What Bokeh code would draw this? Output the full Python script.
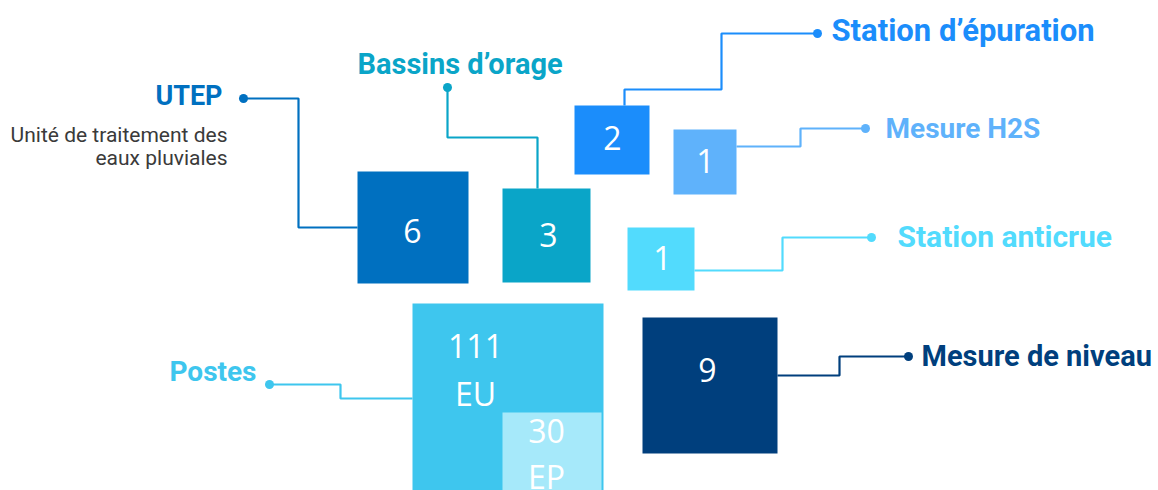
from bokeh.plotting import figure
from bokeh.models import ColumnDataSource, Range1d
from bokeh.core.properties import value
from bokeh.embed import file_html
from bokeh.resources import INLINE

# ---------------- data ----------------
labels = ["UTEP", "Bassins d’orage", "Station d’épuration", "Mesure H2S",
          "Station anticrue", "Mesure de niveau"]
counts = [6, 3, 2, 1, 1, 9]
postes_label = "Postes"
postes_types = ["EU", "EP"]
postes_counts = [111, 30]
utep_subtitle = ["Unité de traitement des", "eaux pluviales"]

# ---------------- layout / style (page pixels) ----------------
colors = ["#0070C0", "#0AA5C8", "#1B8DFB", "#5FB2FB", "#52DBFD", "#003F7D"]
postes_colors = ["#3EC6EE", "#A6E9FA"]
postes_text_color = "#3EC6EE"

# squares: left, top, right, bottom
boxes = [(357, 171, 468, 283), (502, 188, 590, 282), (574, 105, 649, 174),
         (673, 129, 736, 194), (627, 227, 694, 290), (642, 317, 777, 453)]
postes_boxes = [(412, 303, 603, 520), (502, 412, 601, 520)]
# number anchors (center x, center y)
num_pos = [(412, 230), (548, 234), (612, 137), (705, 160), (662, 257), (707, 369)]
postes_num_pos = [(475, 345), (546, 430)]
postes_type_pos = [(475, 393), (546, 476)]
# connector paths
paths = [
    [(243, 98), (298, 98), (298, 227), (357, 227)],
    [(447, 87), (447, 137), (537, 137), (537, 188)],
    [(624, 105), (624, 89), (721, 89), (721, 33), (817, 33)],
    [(736, 146), (800, 146), (800, 128), (865, 128)],
    [(694, 270), (782, 270), (782, 237), (871, 237)],
    [(777, 375), (839, 375), (839, 356), (908, 356)],
]
dots = [(243, 98), (447, 87), (817, 33), (865, 128), (871, 237), (908, 356)]
postes_path = [(269, 384), (340, 384), (340, 398), (412, 398)]
postes_dot = (269, 384)
# label anchors (x, center y, align, size)
label_pos = [(222, 95, "right", "27px"), (357, 63, "left", "29px"),
             (831, 30, "left", "31px"), (885, 128, "left", "28px"),
             (897, 236, "left", "30px"), (921, 355, "left", "29px")]
postes_label_pos = (256, 371, "right", "28px")
subtitle_pos = [(227, 134), (227, 157)]

LABEL_FONT = "Roboto"
NUM_FONT = "Open Sans"

W, H = 1158, 490
p = figure(width=W, height=H, output_backend="svg", toolbar_location=None,
           x_range=Range1d(0, W), y_range=Range1d(H, 0),
           x_axis_type=None, y_axis_type=None, min_border=0,
           background_fill_color="white", border_fill_color="white")
p.grid.visible = False
p.outline_line_color = None

# connectors
p.multi_line(xs=[[q[0] for q in pth] for pth in paths] + [[q[0] for q in postes_path]],
             ys=[[q[1] for q in pth] for pth in paths] + [[q[1] for q in postes_path]],
             line_color=colors + [postes_text_color], line_width=2.2)
p.scatter(x=[d[0] for d in dots] + [postes_dot[0]], y=[d[1] for d in dots] + [postes_dot[1]],
          size=9, color=colors + [postes_text_color], line_width=0)

# squares
sq = ColumnDataSource(dict(
    left=[b[0] for b in boxes] + [b[0] for b in postes_boxes],
    top=[b[1] for b in boxes] + [b[1] for b in postes_boxes],
    right=[b[2] for b in boxes] + [b[2] for b in postes_boxes],
    bottom=[b[3] for b in boxes] + [b[3] for b in postes_boxes],
    color=colors + postes_colors))
p.quad(left="left", right="right", top="top", bottom="bottom", source=sq,
       fill_color="color", line_color=None)

# numbers
p.text(x=[q[0] for q in num_pos] + [q[0] for q in postes_num_pos],
       y=[q[1] for q in num_pos] + [q[1] for q in postes_num_pos],
       text=[str(c) for c in counts] + [str(c) for c in postes_counts],
       text_color="white", text_font=value(NUM_FONT), text_font_size="32px",
       text_align="center", text_baseline="middle")
p.text(x=[q[0] for q in postes_type_pos], y=[q[1] for q in postes_type_pos],
       text=postes_types, text_color="white", text_font=value(NUM_FONT),
       text_font_size="32px", text_align="center", text_baseline="middle")

# labels
for lab, col, (x, y, al, sz) in zip(labels, colors, label_pos):
    p.text(x=[x], y=[y], text=[lab], text_color=col, text_font=value(LABEL_FONT),
           text_font_size=sz, text_font_style="bold", text_align=al,
           text_baseline="middle")
x, y, al, sz = postes_label_pos
p.text(x=[x], y=[y], text=[postes_label], text_color=postes_text_color,
       text_font=value(LABEL_FONT), text_font_size=sz, text_font_style="bold",
       text_align=al, text_baseline="middle")

# UTEP subtitle
p.text(x=[q[0] for q in subtitle_pos], y=[q[1] for q in subtitle_pos], text=utep_subtitle,
       text_color="#3a3a3a", text_font=value("Roboto"), text_font_size="21px",
       text_align="right", text_baseline="middle")

open("out.html", "w").write(file_html(p, INLINE))
